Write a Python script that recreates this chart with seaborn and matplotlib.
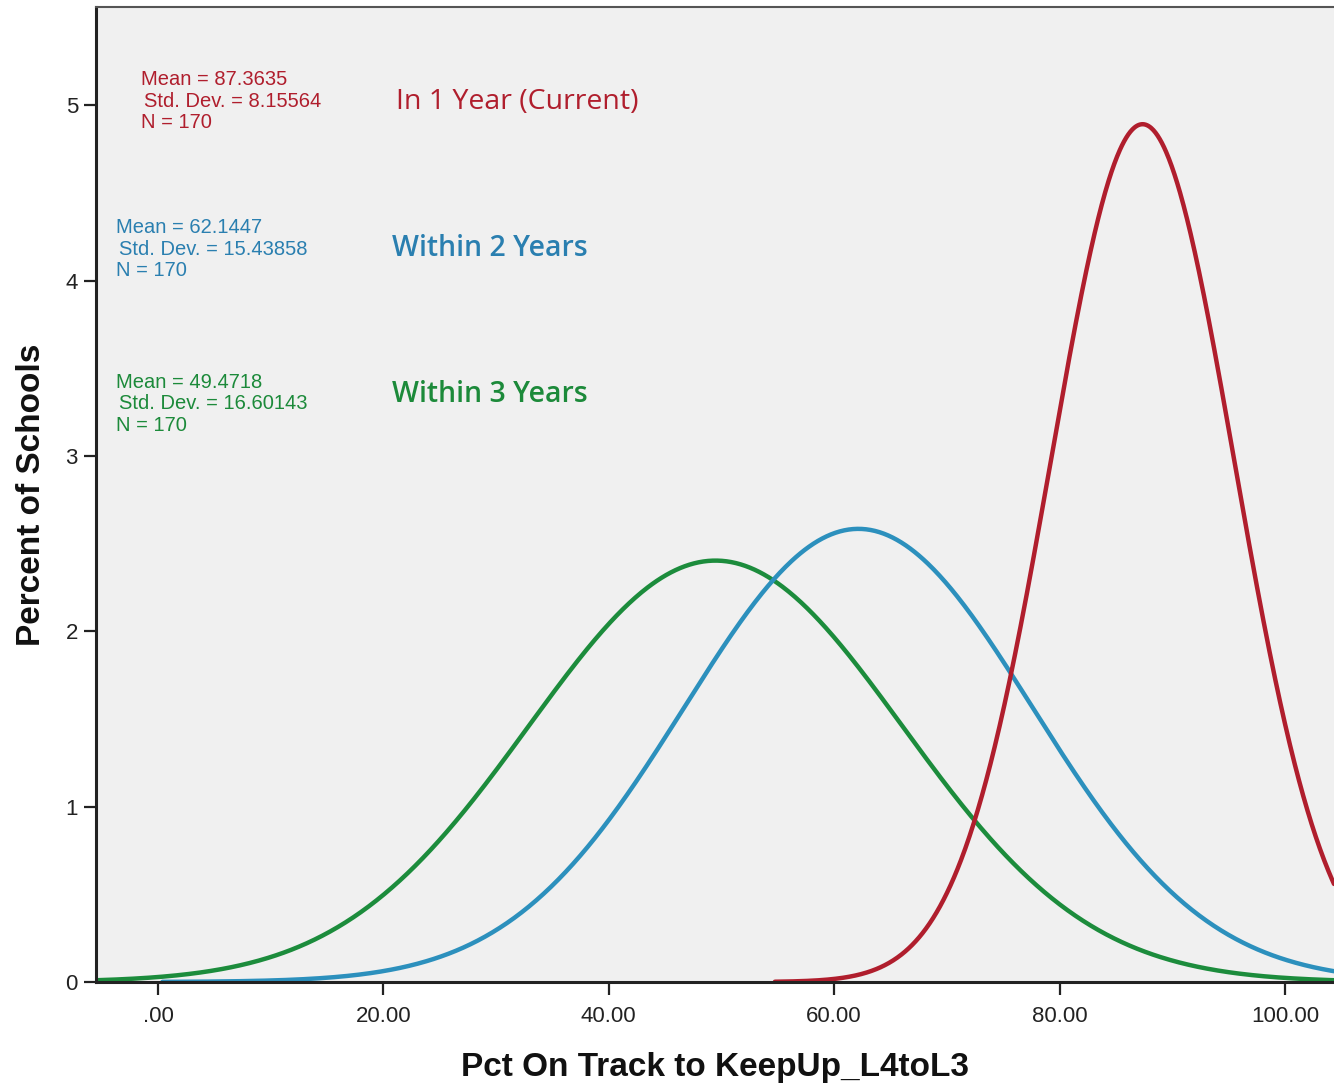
import numpy as np
import pandas as pd
import matplotlib
matplotlib.use("Agg")
import matplotlib.pyplot as plt
import seaborn as sns

# ---- data ----
groups = ["In 1 Year (Current)", "Within 2 Years", "Within 3 Years"]
means = [87.3635, 62.1447, 49.4718]
std_devs = [8.15564, 15.43858, 16.60143]
n_values = [170, 170, 170]
colors = ["#b01e2d", "#2c90bd", "#1c8c3c"]
text_colors = ["#b01e2d", "#2a7fb0", "#1c8a3a"]
x_ticks = [0, 20, 40, 60, 80, 100]
x_tick_labels = [".00", "20.00", "40.00", "60.00", "80.00", "100.00"]
y_ticks = [0, 1, 2, 3, 4, 5]
bin_width = 1.0  # percent-per-unit scaling used by the fitted normal curves
curve_span_sd = 4.0  # each fitted curve is drawn over mean +/- 4 SD

sns.set_theme(style="white")
plt.rcParams["font.family"] = ["Liberation Sans", "DejaVu Sans"]

xmin, xmax = -5.5, 104.35
ymin, ymax = 0, 5.56

frames = []
for g, m, s in zip(groups, means, std_devs):
    lo = max(xmin, m - curve_span_sd * s)
    hi = min(xmax, m + curve_span_sd * s)
    xs = np.linspace(lo, hi, 800)
    y = 100 * bin_width * np.exp(-0.5 * ((xs - m) / s) ** 2) / (s * np.sqrt(2 * np.pi))
    frames.append(pd.DataFrame({"x": xs, "y": y, "group": g}))
df = pd.concat(frames, ignore_index=True)

fig = plt.figure(figsize=(13.34, 10.85), dpi=100)
ax = fig.add_axes([96 / 1334, (1085 - 982) / 1085, 1 - 96 / 1334, (982 - 7) / 1085])
ax.set_facecolor("#f0f0f0")

plot_order = ["Within 3 Years", "Within 2 Years", "In 1 Year (Current)"]
palette = dict(zip(groups, colors))
sns.lineplot(data=df, x="x", y="y", hue="group", hue_order=plot_order,
             palette=palette, linewidth=3.2, ax=ax, legend=False, sort=False,
             estimator=None)

ax.set_xlim(xmin, xmax)
ax.set_ylim(ymin, ymax)
ax.set_xticks(x_ticks)
ax.set_xticklabels(x_tick_labels)
ax.set_yticks(y_ticks)
ax.set_yticklabels([str(v) for v in y_ticks])
ax.tick_params(axis="both", which="major", direction="out", length=9, width=1.6,
               color="#222222", labelsize=16, labelcolor="#222222", pad=4, bottom=True, left=True)
ax.tick_params(axis="x", pad=8)

for side in ["left", "bottom", "top"]:
    ax.spines[side].set_visible(True)
    ax.spines[side].set_color("#222222")
    ax.spines[side].set_linewidth(2.2)
ax.spines["top"].set_color("#555555")
ax.spines["top"].set_linewidth(1.5)
ax.spines["right"].set_visible(False)

ax.set_xlabel("Pct On Track to KeepUp_L4toL3", fontsize=24, fontweight="bold",
              color="#111111", labelpad=18)
ax.set_ylabel("Percent of Schools", fontsize=24, fontweight="bold",
              color="#111111", labelpad=13)

# annotation positions (data coords)
stat_x = [-1.5, -3.7, -3.7]
stat_y = [5.145, 4.30, 3.42]
title_x = [21.1, 20.8, 20.8]
title_y = [5.02, 4.18, 3.35]
line_step = 0.122

for i in range(3):
    lines = [f"Mean = {means[i]}", f"Std. Dev. = {std_devs[i]}", f"N = {n_values[i]}"]
    for k, t in enumerate(lines):
        dx = 0.25 if k == 1 else 0.0
        ax.text(stat_x[i] + dx, stat_y[i] - k * line_step, t, color=text_colors[i],
                fontsize=14.5, ha="left", va="center", family=["Liberation Sans", "DejaVu Sans"])
    ax.text(title_x[i], title_y[i], groups[i], color=text_colors[i], fontsize=20.5,
            ha="left", va="center", family=["Open Sans", "DejaVu Sans"],
            fontweight="normal" if i == 0 else "semibold")

fig.savefig("out.png", dpi=100, facecolor="white")
